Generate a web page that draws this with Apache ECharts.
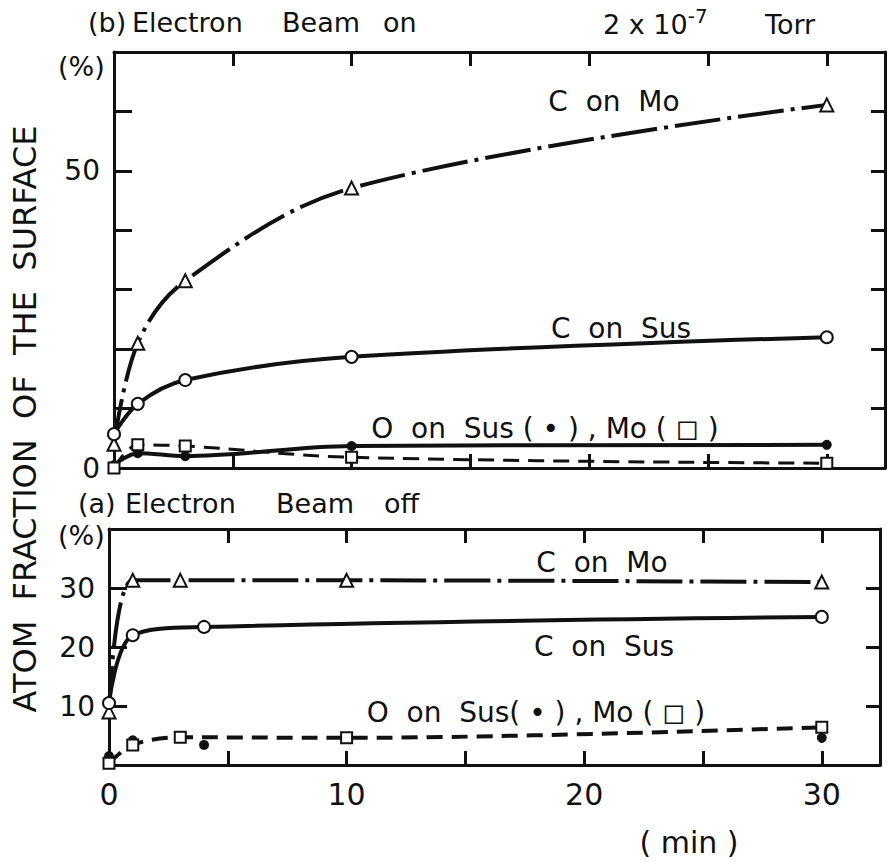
<!DOCTYPE html>
<html>
<head>
<meta charset="utf-8">
<script src="https://cdn.jsdelivr.net/npm/echarts@6/dist/echarts.min.js"></script>
<style>
  html, body { margin: 0; padding: 0; background: #fff; }
  #chart { width: 888px; height: 862px; }
</style>
</head>
<body>
<div id="chart"></div>
<script>
// (b) electron beam on, 2x10^-7 Torr
const timeB = [0, 1, 3, 10, 30];
const cMoB = [4.0, 21.0, 31.5, 47.1, 61.1];
const cSusB = [5.7, 10.8, 14.8, 18.7, 22.0];
const oSusB = [0.5, 2.5, 2.0, 3.7, 3.9];
const oMoB = [0.0, 3.9, 3.7, 1.8, 0.8];

// (a) electron beam off
const timeMoA = [0, 1, 3, 10, 30];
const cMoA = [9.0, 31.3, 31.3, 31.3, 31.0];
const oMoA = [0.3, 3.4, 4.7, 4.6, 6.4];
const timeSusA = [0, 1, 4, 30];
const cSusA = [10.5, 22.0, 23.4, 25.1];
const oSusA = [1.5, 4.2, 3.4, 4.6];

const xTickLabels = [0, 10, 20, 30];
const yLabelsB = [0, 50];
const yLabelsA = [10, 20, 30];

const FONT = 'DejaVu Sans';
const INK = '#111';
const W = 771, HB = 416, HA = 236;

function pairs(xs, ys) {
  return xs.map((x, i) => [x, ys[i]]);
}

let myChart = echarts.init(document.getElementById('chart'), null, {renderer: 'svg'});

// onZero off, otherwise the top/right frame axes jump onto the zero line
const axisLine = (show) => ({show: show, onZero: false, lineStyle: {color: INK, width: 3}});
const ticks = (len, inside) => ({show: true, inside: inside, length: len, lineStyle: {color: INK, width: 3}});

function xAx(grid, pos, labels, extra) {
  return Object.assign({
    type: 'value', gridIndex: grid, position: pos,
    min: 0, max: 32.45, interval: 5,
    axisLine: axisLine(true),
    axisTick: ticks(14, true),
    splitLine: {show: false},
    axisLabel: {
      show: labels, margin: 14, color: INK, fontFamily: FONT, fontSize: 30,
      formatter: v => (xTickLabels.indexOf(v) >= 0 ? String(v) : '')
    }
  }, extra || {});
}

function yAx(grid, pos, max, labels, extra) {
  return Object.assign({
    type: 'value', gridIndex: grid, position: pos,
    min: 0, max: max, interval: 10,
    axisLine: axisLine(true),
    axisTick: ticks(14, true),
    splitLine: {show: false},
    axisLabel: {
      show: !!labels, margin: 14, color: INK, fontFamily: FONT, fontSize: 28,
      formatter: v => (labels && labels.indexOf(v) >= 0 ? String(v) : '')
    }
  }, extra || {});
}

// tick-only axes moved onto the left / top frame edges so their ticks point into the plot
const tickOnlyX = (grid, h) => xAx(grid, 'bottom', false, {offset: -h, axisLine: axisLine(false), axisTick: ticks(14, false)});
const tickOnlyY = (grid, max) => yAx(grid, 'right', max, null, {offset: -W, axisLine: axisLine(false), axisTick: ticks(18, false)});

function line(name, xi, yi, data, opts) {
  return Object.assign({
    name: name, type: 'line', xAxisIndex: xi, yAxisIndex: yi,
    data: data, smooth: 0.35, symbolKeepAspect: true,
    lineStyle: Object.assign({color: INK, width: 4}, opts.ls || {}),
    itemStyle: {color: opts.fill || '#fff', borderColor: INK, borderWidth: 2},
    z: opts.z || 3
  }, opts.extra || {});
}

const dashDot = [46, 7, 4, 7];
const dashed = [16, 9];

function txt(text, x, y, size, align) {
  return {
    type: 'text', x: x, y: y, z: 100,
    style: {
      text: text, fill: INK, fontFamily: FONT, fontSize: size,
      textAlign: align || 'left', textVerticalAlign: 'middle'
    }
  };
}

myChart.setOption({
  animation: false,
  backgroundColor: '#fff',
  grid: [
    {left: 114, top: 52, width: W, height: HB},
    {left: 109, top: 529, width: W, height: HA}
  ],
  xAxis: [
    xAx(0, 'bottom', false),
    xAx(0, 'top', false),
    xAx(1, 'bottom', true),
    xAx(1, 'top', false),
    tickOnlyX(0, HB),
    tickOnlyX(1, HA)
  ],
  yAxis: [
    yAx(0, 'left', 70, yLabelsB),
    yAx(0, 'right', 70, null),
    yAx(1, 'left', 40, yLabelsA),
    yAx(1, 'right', 40, null),
    tickOnlyY(0, 70),
    tickOnlyY(1, 40)
  ],
  series: [
    line('C on Mo (b)', 0, 0, pairs(timeB, cMoB), {ls: {type: dashDot}, extra: {symbol: 'triangle', symbolSize: 13}}),
    line('C on Sus (b)', 0, 0, pairs(timeB, cSusB), {extra: {symbol: 'circle', symbolSize: 12}}),
    line('O on Sus (b)', 0, 0, pairs(timeB, oSusB), {fill: INK, extra: {symbol: 'circle', symbolSize: 8}}),
    line('O on Mo (b)', 0, 0, pairs(timeB, oMoB), {ls: {type: dashed, width: 3}, extra: {symbol: 'rect', symbolSize: 11}}),
    line('C on Mo (a)', 2, 2, pairs(timeMoA, cMoA), {ls: {type: dashDot}, extra: {symbol: 'triangle', symbolSize: 13}}),
    line('C on Sus (a)', 2, 2, pairs(timeSusA, cSusA), {extra: {symbol: 'circle', symbolSize: 12}}),
    line('O on Sus (a)', 2, 2, pairs(timeSusA, oSusA), {fill: INK, ls: {width: 0, opacity: 0}, extra: {symbol: 'circle', symbolSize: 8}}),
    line('O on Mo (a)', 2, 2, pairs(timeMoA, oMoA), {ls: {type: dashed}, extra: {symbol: 'rect', symbolSize: 11}})
  ],
  graphic: [
    // panel headers
    txt('(b)', 88, 22, 27),
    txt('Electron', 132, 22, 27),
    txt('Beam', 282, 22, 27),
    txt('on', 383, 22, 27),
    {
      type: 'text', x: 603, y: 24, z: 100,
      style: {
        text: '2 x 10{sup|-7}', fill: INK, fontFamily: FONT, fontSize: 27,
        textVerticalAlign: 'middle',
        rich: {sup: {fontSize: 20, fontFamily: FONT, fill: INK, verticalAlign: 'top', padding: [0, 0, 16, 0]}}
      }
    },
    txt('Torr', 765, 24, 27),
    txt('(%)', 58, 66, 27),
    txt('(a)', 78, 503, 27),
    txt('Electron', 125, 503, 27),
    txt('Beam', 276, 503, 27),
    txt('off', 384, 503, 27),
    txt('(%)', 58, 535, 27),
    // curve labels
    txt('C  on  Mo', 614, 101, 28, 'center'),
    txt('C  on  Sus', 621, 328, 28, 'center'),
    txt('O  on  Sus ( • ) , Mo ( ◻ )', 545, 428, 28, 'center'),
    txt('C  on  Mo', 602, 562, 28, 'center'),
    txt('C  on  Sus', 604, 646, 28, 'center'),
    txt('O  on  Sus( • ) , Mo ( ◻ )', 536, 712, 28, 'center'),
    txt('( min )', 689, 842, 30, 'center'),
    {
      type: 'text', x: 25, y: 419, rotation: Math.PI / 2, z: 100,
      style: {
        text: 'ATOM  FRACTION  OF  THE  SURFACE', fill: INK, fontFamily: FONT, fontSize: 32,
        textAlign: 'center', textVerticalAlign: 'middle'
      }
    }
  ]
});
</script>
</body>
</html>
